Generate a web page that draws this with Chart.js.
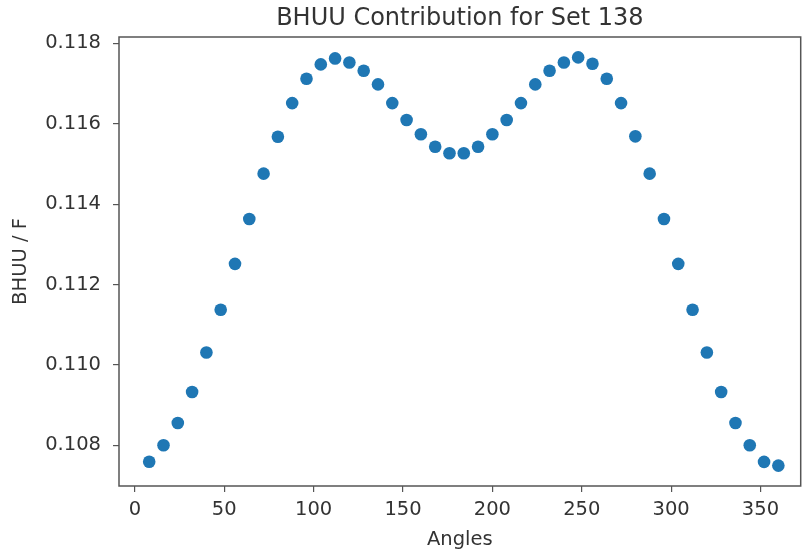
<!DOCTYPE html>
<html>
<head>
<meta charset="utf-8">
<script src="https://cdn.jsdelivr.net/npm/chart.js@4/dist/chart.umd.min.js"></script>
<style>
html,body{margin:0;padding:0;background:#fff;overflow:hidden;}
canvas{display:block;}
</style>
</head>
<body>
<canvas id="c" width="807" height="555"></canvas>
<script>
const angles = [8,16,24,32,40,48,56,64,72,80,88,96,104,112,120,128,136,144,152,160,168,176,184,192,200,208,216,224,232,240,248,256,264,272,280,288,296,304,312,320,328,336,344,352,360];
const bhuu = [0.10759,0.10800,0.108557,0.109327,0.110311,0.111371,0.112514,0.113632,0.114758,0.115677,0.116514,0.117118,0.117476,0.117625,0.117525,0.117317,0.116979,0.116514,0.116092,0.115737,0.115429,0.115265,0.115265,0.115429,0.115737,0.116092,0.116514,0.116979,0.117317,0.117525,0.117650,0.117491,0.117118,0.116514,0.115687,0.114758,0.113632,0.112514,0.111371,0.110311,0.109327,0.108557,0.108000,0.107588,0.107496];
const xTicks = [0,50,100,150,200,250,300,350];
const yTicks = [0.108,0.110,0.112,0.114,0.116,0.118];
const titleText = 'BHUU Contribution for Set 138';
const xLabel = 'Angles';
const yLabel = 'BHUU / F';

const textColor = '#333';
const axisColor = '#555';
const font = 'DejaVu Sans';

const framePlugin = {
  id: 'frame',
  beforeDatasetsDraw(chart) {
    const a = chart.chartArea, ctx = chart.ctx;
    ctx.save();
    ctx.strokeStyle = axisColor;
    ctx.lineWidth = 1.5;
    ctx.strokeRect(a.left, a.top, a.right - a.left, a.bottom - a.top);
    ctx.restore();
  }
};

// Title centred over the plotting area (as in the reference)
const axesTitle = {
  id: 'axesTitle',
  afterDraw(chart, args, opts) {
    const a = chart.chartArea, ctx = chart.ctx;
    ctx.save();
    ctx.fillStyle = textColor;
    ctx.font = '24px "' + font + '"';
    ctx.textAlign = 'center';
    ctx.textBaseline = 'middle';
    ctx.fillText(opts.text, (a.left + a.right) / 2, 18.5);
    ctx.restore();
  }
};

new Chart(document.getElementById('c'), {
  type: 'scatter',
  data: {
    datasets: [{
      label: titleText,
      data: angles.map((a, i) => ({x: a, y: bhuu[i]})),
      backgroundColor: '#1f77b4',
      borderColor: '#1f77b4',
      borderWidth: 0,
      pointRadius: 6.3,
      pointHoverRadius: 6.3
    }]
  },
  options: {
    responsive: false,
    animation: false,
    devicePixelRatio: 1,
    layout: {padding: {left: 0, right: 5, top: 37, bottom: 0}},
    plugins: {
      legend: {display: false},
      tooltip: {enabled: false},
      title: {display: false, text: titleText},
      axesTitle: {text: titleText}
    },
    scales: {
      x: {
        type: 'linear',
        min: -8.9,
        max: 372.5,
        afterFit(s) { s.height = 69; },
        afterBuildTicks(s) { s.ticks = xTicks.map(v => ({value: v})); },
        border: {display: false},
        grid: {display: true, drawOnChartArea: false, drawTicks: true, tickLength: 6, color: axisColor, lineWidth: 1.2},
        ticks: {color: textColor, font: {family: font, size: 19.5}, padding: 6, maxRotation: 0,
          callback: v => String(v)},
        title: {display: true, text: xLabel, color: textColor, font: {family: font, size: 19.5}, padding: {top: 0, bottom: 3}}
      },
      y: {
        type: 'linear',
        min: 0.106988,
        max: 0.118158,
        afterFit(s) { s.width = 119; },
        afterBuildTicks(s) { s.ticks = yTicks.map(v => ({value: v})); },
        border: {display: false},
        grid: {display: true, drawOnChartArea: false, drawTicks: true, tickLength: 6, color: axisColor, lineWidth: 1.2},
        ticks: {color: textColor, font: {family: font, size: 19.5}, padding: 12,
          callback: v => Number(v).toFixed(3)},
        title: {display: true, text: yLabel, color: textColor, font: {family: font, size: 19.5}, padding: {top: 9, bottom: 0}}
      }
    }
  },
  plugins: [framePlugin, axesTitle]
});
</script>
</body>
</html>
